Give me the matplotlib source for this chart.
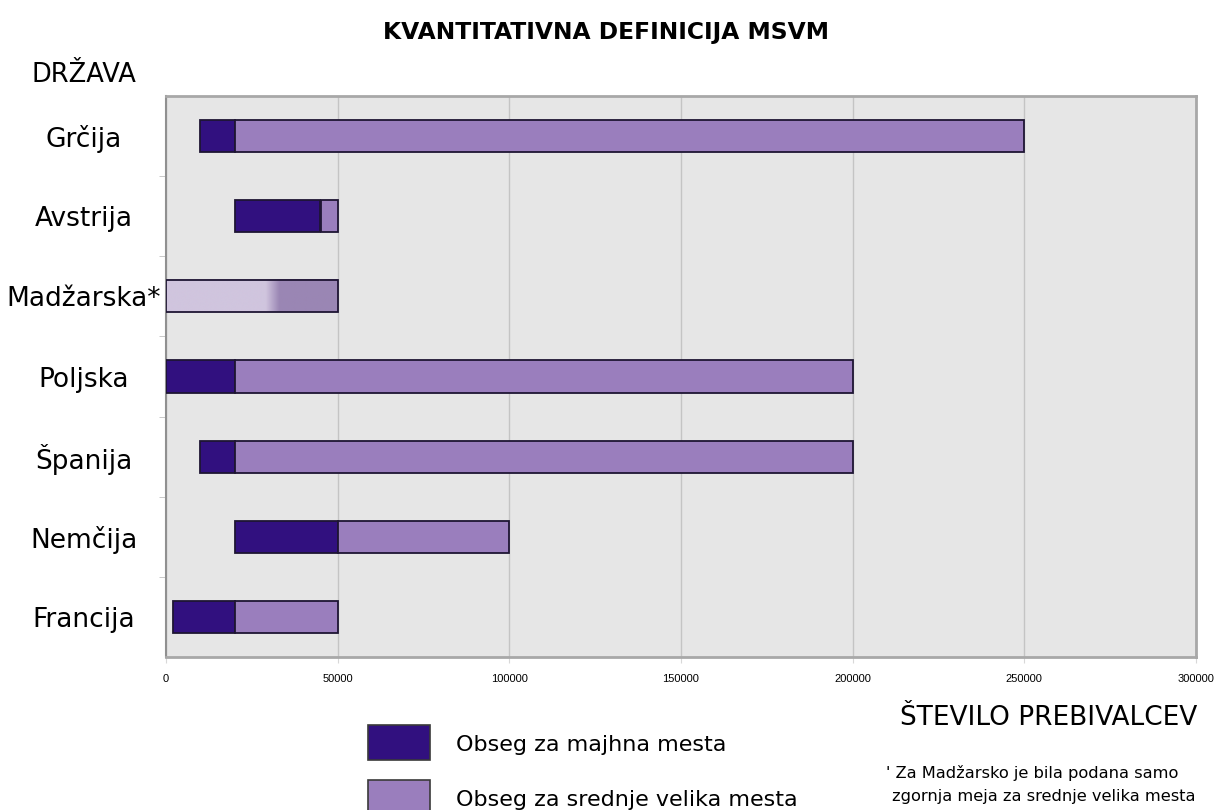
import matplotlib
matplotlib.use("Agg")
import matplotlib.pyplot as plt
import numpy as np
from matplotlib.patches import Rectangle
from matplotlib.colors import LinearSegmentedColormap

countries = ["Grčija", "Avstrija", "Madžarska*", "Poljska", "Španija", "Nemčija", "Francija"]
small_low = [10000, 20000, None, 0, 10000, 20000, 2000]
small_high = [20000, 45000, None, 20000, 20000, 50000, 20000]
medium_high = [250000, 50000, 50000, 200000, 200000, 100000, 50000]
hungary_fade = [29000, 33000]  # region where the light fill turns darker
xticks = [0, 50000, 100000, 150000, 200000, 250000, 300000]

c_small = "#31107f"
c_medium = "#9a7ebd"
c_edge = "#1e1533"
c_bg = "#e6e6e6"

fig = plt.figure(figsize=(12.21, 8.10), dpi=100)
ax = fig.add_axes([166/1221, 1-657/810, (1196-166)/1221, (657-96)/810])
ax.set_facecolor(c_bg)

y = np.arange(len(countries))
h = 0.4
for i, c in enumerate(countries):
    if small_low[i] is None:
        lo, hi = 0, medium_high[i]
        xs = np.linspace(lo, hi, 500)
        vals = np.clip((xs - hungary_fade[0]) / (hungary_fade[1] - hungary_fade[0]), 0, 1)
        img = np.tile(vals, (2, 1))
        ax.imshow(img, cmap=LinearSegmentedColormap.from_list("g2", ["#d0c5de", "#9a86b4"]),
                  extent=[lo, hi, i - h/2, i + h/2], aspect="auto", zorder=3, interpolation="bilinear")
        ax.barh(i, hi - lo, left=lo, height=h, facecolor="none", edgecolor=c_edge, linewidth=1.3, zorder=4)
    else:
        ax.barh(i, small_high[i] - small_low[i], left=small_low[i], height=h,
                color=c_small, edgecolor=c_edge, linewidth=1.3, zorder=3)
        ax.barh(i, medium_high[i] - small_high[i], left=small_high[i], height=h,
                color=c_medium, edgecolor=c_edge, linewidth=1.3, zorder=3)

ax.set_xlim(0, 300000)
ax.set_ylim(len(countries) - 0.5, -0.5)
ax.set_xticks(xticks)
ax.set_xticklabels([str(v) for v in xticks], fontsize=8, family="Liberation Sans")
ax.xaxis.grid(True, color="#c4c4c4", linewidth=1)
ax.set_axisbelow(True)
ax.tick_params(axis="x", length=4, color="#d8d8d8", pad=8)

ax.set_yticks(y)
ax.set_yticklabels(countries, fontsize=19, ha="center")
ax.set_yticks(np.arange(0.5, len(countries) - 0.5, 1), minor=True)
ax.tick_params(axis="y", which="major", length=0, pad=59)
ax.tick_params(axis="y", which="minor", length=5, color="#c0c0c0")

for s in ax.spines.values():
    s.set_color("#a8a8a8")
    s.set_linewidth(2)
ax.spines["left"].set_color("#909090")
ax.spines["left"].set_linewidth(1.5)

fig.text(606/1221, 1-32/810, "KVANTITATIVNA DEFINICIJA MSVM", ha="center", va="center",
         fontsize=16.8, fontweight="bold")
fig.text(32/1221, 1-75/810, "DRŽAVA", ha="left", va="center", fontsize=18.5)
fig.text(1197/1221, 1-718/810, "ŠTEVILO PREBIVALCEV", ha="right", va="center", fontsize=19)

# legend
leg = [(c_small, "Obseg za majhna mesta", 725), (c_medium, "Obseg za srednje velika mesta", 780)]
for col, lab, ytop in leg:
    fig.add_artist(Rectangle((368/1221, 1-(ytop+35)/810), 62/1221, 35/810,
                             transform=fig.transFigure, facecolor=col, edgecolor="#3a3a3a", linewidth=1.2))
    fig.text(456/1221, 1-(ytop+20)/810, lab, ha="left", va="center", fontsize=16)

fig.text(886/1221, 1-773/810, "' Za Madžarsko je bila podana samo", ha="left", va="center",
         fontsize=11.7)
fig.text(892/1221, 1-797/810, "zgornja meja za srednje velika mesta", ha="left", va="center",
         fontsize=11.7)

fig.savefig("out.png", dpi=100, facecolor="white")
